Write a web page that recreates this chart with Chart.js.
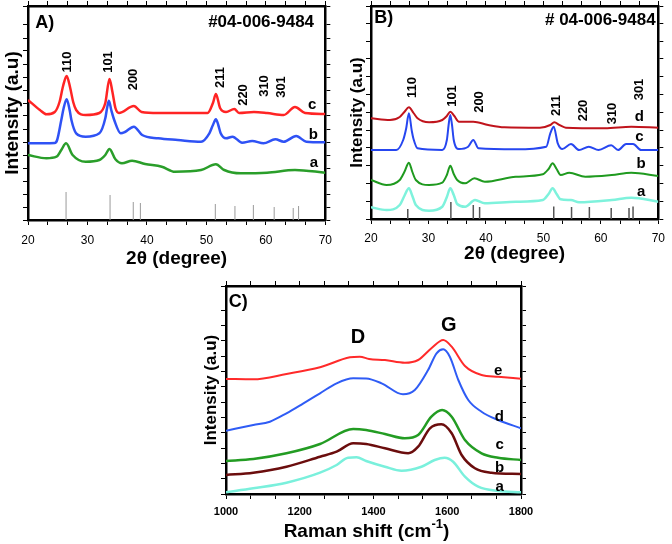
<!DOCTYPE html>
<html><head><meta charset="utf-8">
<script src="https://cdn.jsdelivr.net/npm/chart.js@4.4.1/dist/chart.umd.min.js"></script>
<style>
html,body{margin:0;padding:0;background:#fff;width:672px;height:544px;overflow:hidden}
canvas{position:absolute}
</style></head><body>
<canvas id="cA" width="340" height="270" style="left:0;top:0"></canvas>
<canvas id="cB" width="332" height="270" style="left:340px;top:0"></canvas>
<canvas id="cC" width="344" height="272" style="left:196px;top:272px"></canvas>
<script>
// ---------- Panel A : XRD ----------
const aC_x = [20,22,23.1,24.5,25.3,25.9,26.5,27.1,27.6,28.1,29.7,32,33,33.7,34.2,34.7,35.3,37.8,39.1,41.9,45.2,50.2,51.1,51.6,52.3,53.3,54.7,55.5,58,60.2,63,64.9,66.6,70];
const aC_y = [120,110,105.7,108,118,134,144,132,118,110,105,107,117,141,128,112,107,114,108,107,107,107,117,126,112,108,111,107,108,107,105,113,107,106];
const aB_x = [20,24.5,24.9,25.6,26.0,26.5,27.0,27.3,28.1,29.7,32,33,33.3,33.6,34.0,34.5,35.6,36.3,37.8,39.2,41.9,45.2,49.1,50.5,51.1,51.6,52.0,52.4,53.3,54.4,56,57.7,59.6,61.6,63,65.1,66.8,70];
const aB_y = [76.7,77,80,100,112,120.7,110,100,86.7,83.3,86.7,101.7,112,119.3,110,100,86.7,88,93.3,85,81.7,80,78.3,86.7,95,100.7,95,86.7,81.7,83.3,77.3,79,76.7,80.7,78.3,84,78.3,77.7];
const aA_x = [20,23.1,24.8,25.6,26.4,27.5,29.7,32,33.0,33.7,34.7,35.8,37.5,39.7,42.5,44.7,49.1,51.6,53,55.8,60.2,64.9,70];
const aA_y = [65,61.7,63.3,70,76.7,65,58.3,60,65,71,60.7,56.7,59.3,56,53.3,48.3,50,55.7,50,46.7,47.3,50,47.3];
const refA_pos = [26.4,33.8,37.7,38.9,51.5,54.8,57.9,61.4,64.6,65.5];
const refA_h = [28,25,18,17,16,14,15,13,12,14];
const hklA = ['110','101','200','211','220','310','301'];
const hklA_x = [26.7,33.6,37.8,52.4,56.2,59.7,62.7];
const hklA_y = [158,158,140.5,142.5,125,134,133];
const serA = ['c','b','a'];
const serA_x = [67.8,68.0,68.1];
const serA_y = [115,85,57];

// ---------- Panel B : XRD ----------
const bD_x = [20,23.3,25,25.8,26.6,27.4,28.1,30.1,32.4,33.2,33.8,34.5,35.3,37.8,40.4,43.2,49.4,51.2,51.9,52.8,53.9,60.7,65.3,70];
const bD_y = [100.7,99,102,107,111.7,106,100.7,96.7,99,103,107.3,103,97.3,97.3,94,91.7,91.3,94,96.7,94,91.3,90.7,92.3,91.3];
const bC_x = [20,24.4,25.6,26.1,26.6,27.1,27.4,28.1,32.4,33.2,33.55,33.8,34.1,34.4,35.3,36.9,37.8,38.7,45.2,50.5,51.2,51.8,52.5,53.3,54.8,56.2,57.9,59.6,61.8,63,64.4,65.6,67,70];
const bC_y = [69,69,79,90,105.7,88,80,70.7,69,79,96,104,94,79,70,72.3,79,70.7,69.7,72.3,85.7,92.3,75.7,70,75,69,72.3,69,73.7,69,75,75,69,69];
const bB_x = [20,22.7,25,25.8,26.6,27.2,27.8,30.1,32.4,33.2,33.8,34.4,35,36.4,38,39.8,45.2,49.9,50.9,51.6,52.3,53,54.5,57.3,61.9,65.3,70];
const bB_y = [39,34,39,47,56.3,47,39,34,36.3,44,53.3,45,39,35.7,40.7,37.3,42.3,44.7,50,55.7,50,44,46.3,42.3,44,46.3,43];
const bA_x = [20,22.7,25,25.8,26.6,27.2,27.8,30.1,32.4,33.2,33.8,34.4,35,36.4,38.1,39.8,45.2,49.9,50.9,51.6,52.3,53,54.8,56.2,61.9,65.3,70];
const bA_y = [11.7,9,14,23,30.7,23,14,8.3,12.3,22,30.7,24,15,12.3,19,15.7,17.3,19,25,30.7,25,19.7,19,16.7,19,21.3,17.3];
const refB_pos = [26.4,33.9,37.8,38.9,51.8,54.9,58.0,61.8,64.9,65.6];
const refB_h = [10,17,14,12,12.5,12,12,11,11,12.5];
const hklB = ['110','101','200','211','220','310','301'];
const hklB_x = [27.2,34.2,38.8,52.3,57.0,62.0,66.7];
const hklB_y = [131.5,123,117,113.5,108.5,105.5,129.5];
const serB = ['d','c','b','a'];
const serB_x = [66.7,66.7,67.0,67.0];
const serB_y = [101.7,82.3,55,26.7];

// ---------- Panel C : Raman ----------
const cE_x = [1000,1074,1164,1255,1336,1363,1388,1431,1485,1521,1557,1589,1612,1648,1693,1738,1800];
const cE_y = [115,114.7,120,126.7,136.7,137.3,135,134,131.3,134,145.7,154,147.3,128,119,117.3,115.3];
const cD_x = [1000,1074,1119,1164,1210,1255,1300,1345,1380,1422,1480,1512,1548,1571,1589,1607,1630,1657,1693,1738,1800];
const cD_y = [63.3,69,72.3,80.7,90.7,100.7,110.7,115.7,115.5,110.7,99.7,104,124,140.7,144.7,137.3,114,94,82.3,74,65.7];
const cC_x = [1000,1074,1164,1255,1345,1380,1431,1485,1521,1557,1586,1612,1648,1693,1738,1800];
const cC_y = [33,35,40.7,50,65,64,60,55.7,59,77.3,84,77.3,54,40.7,36.3,34];
const cB_x = [1000,1074,1164,1255,1300,1345,1380,1431,1494,1521,1553,1584,1612,1639,1675,1720,1800];
const cB_y = [19,21.3,27.3,37.3,42.3,50.7,50,45.7,40.7,47.3,65.7,69.7,60.7,39,25.7,21.3,20];
const cA_x = [1000,1074,1164,1255,1300,1331,1354,1380,1431,1476,1530,1566,1593,1616,1648,1684,1738,1800];
const cA_y = [1.7,5.7,11.3,21.3,29,36.3,36.7,33,27.3,23.3,27.3,34,36.3,32.3,17.3,7.3,3,1.7];
const bandC = ['D','G'];
const bandC_x = [1358,1604];
const bandC_y = [156.7,169];
const serC = ['e','d','c','b','a'];
const serC_x = [1738,1741,1742,1742,1742];
const serC_y = [123.3,77.3,49,25.7,6.7];

// ---------- helpers ----------
const FF = '"Liberation Sans", Arial, Helvetica, sans-serif';
Chart.defaults.font.family = FF;
Chart.defaults.color = '#000';

function pts(xs, ys){ return xs.map((x,i)=>({x:x, y:ys[i]})); }
function refPts(pos, h){ const out=[]; pos.forEach((p,i)=>{ out.push({x:p,y:0},{x:p,y:h[i]},{x:p,y:null}); }); return out; }
function curve(xs, ys, color, w, order){
  return {data:pts(xs,ys), borderColor:color, borderWidth:w, pointRadius:0, fill:false,
          cubicInterpolationMode:'monotone', order:order};
}
function refSet(pos,h,color,w){
  return {data:refPts(pos,h), borderColor:color, borderWidth:w, pointRadius:0, fill:false, spanGaps:false, tension:0, order:99};
}
function annot(items, extra){
  return {id:'annot', afterDatasetsDraw(chart){
    const ctx=chart.ctx, xs=chart.scales.x, ys=chart.scales.y;
    items.forEach(it=>{
      const px=xs.getPixelForValue(it.x), py=ys.getPixelForValue(it.y);
      ctx.save(); ctx.translate(px,py); if(it.rot) ctx.rotate(-Math.PI/2);
      ctx.font=it.font; ctx.fillStyle='#000'; ctx.textAlign='center'; ctx.textBaseline='middle';
      ctx.fillText(it.text,0,0); ctx.restore();
    });
    if(extra) extra(chart);
  }};
}
function labelItems(texts, xs, ys, font, rot){ return texts.map((t,i)=>({text:t,x:xs[i],y:ys[i],font:font,rot:rot})); }

function axes(o){
  const grid = {display:true, drawOnChartArea:false, drawTicks:true, tickLength:5, color:'#000', lineWidth:1};
  const border = {display:true, color:'#000', width:2.5};
  const lab = v => (Math.abs(v/o.labStep - Math.round(v/o.labStep))<1e-6 ? String(Math.round(v)) : '');
  return {
    x:{type:'linear', position:'bottom', min:o.xmin, max:o.xmax,
       ticks:{stepSize:o.xstep, autoSkip:false, maxRotation:0, padding:o.tickPad, font:o.tickFont, color:'#000', callback:lab},
       grid:grid, border:border,
       title:{display:o.xtitle!=null, text:o.xtitle||'', font:{size:19, weight:'bold'}, color:'#000', padding:{top:0,bottom:o.xtPad}},
       afterFit:s=>{s.height=o.xH;}},
    x2:{type:'linear', position:'top', min:o.xmin, max:o.xmax, ticks:{display:false, stepSize:o.xstep, autoSkip:false},
       grid:grid, border:border, afterFit:s=>{s.height=5;}},
    y:{type:'linear', position:'left', min:0, max:o.ymax, ticks:{display:false, stepSize:o.ystep},
       grid:grid, border:border,
       title:{display:true, text:'Intensity (a.u)', font:{size:o.ytSize, weight:'bold'}, color:'#000', padding:{top:o.ytPad,bottom:0}},
       afterFit:s=>{s.width=o.yW;}},
    y2:{type:'linear', position:'right', min:0, max:o.ymax, ticks:{display:false, stepSize:o.ystep},
       grid:grid, border:border, afterFit:s=>{s.width=5;}}
  };
}
const baseOpts = {responsive:false, animation:false, devicePixelRatio:1,
  plugins:{legend:{display:false}, tooltip:{enabled:false}}, events:[]};

// ---------- Chart A ----------
new Chart(document.getElementById('cA'), {
  type:'line',
  data:{datasets:[
    curve(aC_x,aC_y,'#ff2424',2.5,1),
    curve(aB_x,aB_y,'#2f52f5',2.5,2),
    curve(aA_x,aA_y,'#2a9e2a',2.5,3),
    refSet(refA_pos,refA_h,'#9a9a9a',1)
  ]},
  options:Object.assign({}, baseOpts, {
    layout:{padding:{left:0, top:1, right:6, bottom:0}},
    scales:axes({xmin:20,xmax:70,xstep:10/3,labStep:10,tickPad:8,tickFont:{size:12},
                 xtitle:'2\u03b8 (degree)', xtPad:0, xH:50, ymax:214, ystep:13, yW:28, ytSize:19, ytPad:1})
  }),
  plugins:[annot([].concat(
    labelItems(hklA,hklA_x,hklA_y,'bold 13px '+FF,true),
    labelItems(serA,serA_x,serA_y,'bold 15px '+FF,false),
    [{text:'A)',x:22.8,y:197,font:'bold 18px '+FF},{text:'#04-006-9484',x:59.2,y:197.5,font:'bold 17px '+FF}]
  ))]
});

// ---------- Chart B ----------
new Chart(document.getElementById('cB'), {
  type:'line',
  data:{datasets:[
    curve(bD_x,bD_y,'#c0141c',2,1),
    curve(bC_x,bC_y,'#2646f0',2,2),
    curve(bB_x,bB_y,'#1f9a1f',2,3),
    curve(bA_x,bA_y,'#7ef2dc',2.5,4),
    refSet(refB_pos,refB_h,'#555555',1.5)
  ]},
  options:Object.assign({}, baseOpts, {
    layout:{padding:{left:0, top:1, right:3, bottom:0}},
    scales:axes({xmin:20,xmax:70,xstep:10/3,labStep:10,tickPad:7,tickFont:{size:12},
                 xtitle:'2\u03b8 (degree)', xtPad:5, xH:51, ymax:213, ystep:17.8, yW:31, ytSize:17, ytPad:7})
  }),
  plugins:[annot([].concat(
    labelItems(hklB,hklB_x,hklB_y,'bold 13px '+FF,true),
    labelItems(serB,serB_x,serB_y,'bold 15px '+FF,false),
    [{text:'B)',x:22.2,y:200.7,font:'bold 18px '+FF},{text:'# 04-006-9484',x:59.9,y:199,font:'bold 17px '+FF}]
  ))]
});

// ---------- Chart C ----------
new Chart(document.getElementById('cC'), {
  type:'line',
  data:{datasets:[
    curve(cE_x,cE_y,'#ff2a2a',2,1),
    curve(cD_x,cD_y,'#2f5cf5',2,2),
    curve(cC_x,cC_y,'#239c23',2.5,3),
    curve(cB_x,cB_y,'#6b0d0d',2.5,4),
    curve(cA_x,cA_y,'#7af0dc',2.5,5)
  ]},
  options:Object.assign({}, baseOpts, {
    layout:{padding:{left:0, top:9, right:14, bottom:0}},
    scales:axes({xmin:1000,xmax:1800,xstep:200/3,labStep:200,tickPad:6,tickFont:{size:11,weight:'bold'},
                 xtitle:null, xtPad:0, xH:50, ymax:208, ystep:15.3, yW:30, ytSize:17, ytPad:5})
  }),
  plugins:[annot([].concat(
    labelItems(bandC,bandC_x,bandC_y,'bold 20px '+FF,false),
    labelItems(serC,serC_x,serC_y,'bold 15px '+FF,false),
    [{text:'C)',x:1033,y:192.3,font:'bold 18px '+FF}]
  ), function(chart){
    const ctx=chart.ctx;
    const main='Raman shift (cm', sup='-1', end=')';
    ctx.save(); ctx.fillStyle='#000'; ctx.textBaseline='alphabetic'; ctx.textAlign='left';
    const f1='bold 19px '+FF, f2='bold 13px '+FF;
    ctx.font=f1; const w1=ctx.measureText(main).width, w3=ctx.measureText(end).width;
    ctx.font=f2; const w2=ctx.measureText(sup).width;
    let x=170.5-(w1+w2+w3)/2; const y=265;
    ctx.font=f1; ctx.fillText(main,x,y); x+=w1;
    ctx.font=f2; ctx.fillText(sup,x,y-9); x+=w2;
    ctx.font=f1; ctx.fillText(end,x,y);
    ctx.restore();
  })]
});
</script>
</body></html>
